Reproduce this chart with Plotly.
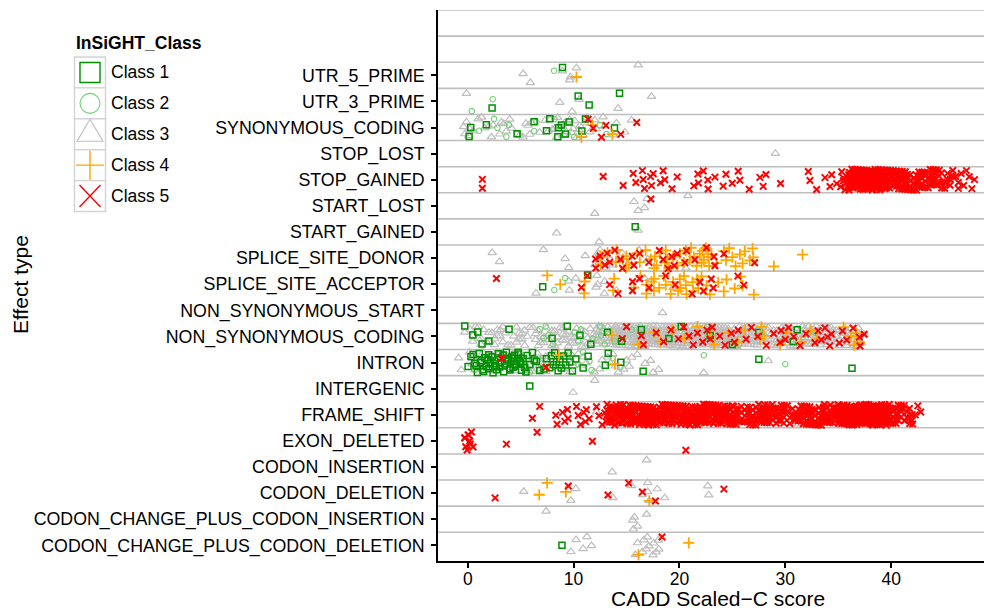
import math
import plotly.graph_objects as go

# ---------------- data ----------------
CATEGORIES = [  # bottom -> top
    "CODON_CHANGE_PLUS_CODON_DELETION", "CODON_CHANGE_PLUS_CODON_INSERTION",
    "CODON_DELETION", "CODON_INSERTION", "EXON_DELETED", "FRAME_SHIFT",
    "INTERGENIC", "INTRON", "NON_SYNONYMOUS_CODING", "NON_SYNONYMOUS_START",
    "SPLICE_SITE_ACCEPTOR", "SPLICE_SITE_DONOR", "START_GAINED", "START_LOST",
    "STOP_GAINED", "STOP_LOST", "SYNONYMOUS_CODING", "UTR_3_PRIME", "UTR_5_PRIME",
]
CLASS_NAMES = ["Class 1", "Class 2", "Class 3", "Class 4", "Class 5"]
X_TICKS = [0, 10, 20, 30, 40]

# individual CADD scores per effect type
class1_scores = {
    "UTR_5_PRIME": [8.95],
    "UTR_3_PRIME": [2.30, 10.43, 11.47, 14.34],
    "SYNONYMOUS_CODING": [0.28, 0.13, 1.76, 4.66, 6.27, 7.44, 7.75, 8.57, 8.51, 8.85,
                          9.23, 9.58, 10.78, 11.12, 13.86],
    "START_GAINED": [15.82],
    "SPLICE_SITE_ACCEPTOR": [7.08, 11.33],
    "NON_SYNONYMOUS_CODING": [-0.28, 0.48, 1.35, 0.95, 2.0, 3.9, 7.97, 9.4, 10.6, 11.63,
                              13.2, 14.53, 16.4, 19.0, 20.17, 22.9, 25.0, 27.5, 30.75, 31.12],
    "INTRON": [0.03, 0.5, 0.66, 0.91, 1.29, 1.45, 1.61, 1.76, 1.98, 2.14, 2.39, 2.55, 2.71,
               2.87, 3.02, 3.34, 3.5, 3.65, 3.81, 3.97, 4.13, 4.28, 4.44, 4.6, 4.76, 4.91,
               5.07, 5.23, 5.39, 5.61, 5.86, 6.11, 6.49, 6.8, 7.44, 7.75, 7.91, 8.07, 8.22,
               8.38, 8.54, 8.7, 8.85, 9.07, 9.26, 9.48, 9.64, 9.89, 10.21, 10.9, 11.37, 13.0,
               13.27, 14.46, 16.57, 27.5, 36.3, 0.3, 0.8, 1.1, 1.2, 1.5, 1.9, 2.0, 2.3, 2.6,
               2.9, 3.1, 3.4, 3.8, 4.0, 4.2, 4.5, 4.8, 5.0, 5.5, 6.3, 7.2],
    "INTERGENIC": [5.86],
    "CODON_CHANGE_PLUS_CODON_DELETION": [8.9],
}
class2_scores = {
    "UTR_5_PRIME": [8.16],
    "UTR_3_PRIME": [0.38, 2.36],
    "SYNONYMOUS_CODING": [1.07, 2.49, 2.8, 3.65, 3.9, 4.66, 6.49, 6.27, 8.19, 8.63, 10.05,
                          12.48, 13.11],
    "SPLICE_SITE_ACCEPTOR": [8.18, 9.2],
    "NON_SYNONYMOUS_CODING": [6.8, 7.15, 7.37, 7.6, 8.06, 10.1, 10.43, 10.7, 11.8, 12.5,
                              12.6, 12.95, 13.3, 13.9, 15.5, 18.95, 22.6, 23.6, 25.6, 32.8],
    "INTRON": [0.66, 1.9, 2.4, 3.6, 5.2, 5.86, 6.3, 6.8, 7.1, 8.2, 9.8, 10.4, 10.9, 11.5,
               11.7, 13.7, 14.4, 22.3, 30.0],
}
class3_scores = {
    "UTR_5_PRIME": [5.23, 5.92, 8.95, 9.64, 10.27, 9.7, 16.1],
    "UTR_3_PRIME": [-0.12, 8.70, 9.86, 10.52, 14.2, 17.36],
    "SYNONYMOUS_CODING": [-0.28, -0.12, 0.5, 0.98, 1.61, 2.24, 2.39, 3.02, 3.18, 3.65, 3.97,
                          4.13, 5.23, 5.7, 5.86, 6.02, 7.59, 7.75, 8.22, 8.38, 8.85, 9.01,
                          9.17, 9.32, 9.64, 9.95, 10.27, 10.59, 10.9, 11.06, 11.53, 12.0,
                          12.16, 12.79, 12.95, 13.74, 14.05, 14.84, 15.47, 0.2, 1.3, 2.0,
                          4.9, 5.5, 6.8, 7.3, 8.0, 8.5, 8.7, 9.1, 9.4, 9.8, 10.1, 10.5,
                          11.2, -0.4, 0.1, 3.4],
    "STOP_LOST": [29.06],
    "STOP_GAINED": [41.2, 41.5],
    "START_LOST": [12.0, 15.7, 16.1, 16.95, 16.7, 20.8],
    "START_GAINED": [8.4, 12.41, 16.1],
    "SPLICE_SITE_DONOR": [2.31, 3.0, 7.15, 9.2, 9.54, 11.1, 12.0, 12.3, 12.4, 12.5, 12.9,
                          13.05, 13.26, 13.74, 14.6, 15.3, 16.2, 17.0, 20.6],
    "SPLICE_SITE_ACCEPTOR": [6.45, 9.54, 9.6, 10.2, 12.12, 12.2, 12.26, 12.9, 12.93, 14.05,
                             16.7, 19.4],
    "NON_SYNONYMOUS_START": [18.4],
    "INTRON": [22.3, 28.4],
    "INTERGENIC": [9.95, 12.0],
    "FRAME_SHIFT": [12.16, 15.9, 18.3, 19.7, 20.2, 24.1, 31.2, 31.6, 33.4],
    "CODON_INSERTION": [13.65, 16.9],
    "CODON_DELETION": [5.29, 9.74, 10.2, 13.7, 15.47, 16.5, 17.0, 17.0, 17.15, 17.9, 18.6,
                       22.67, 22.77],
    "CODON_CHANGE_PLUS_CODON_INSERTION": [7.4, 15.58, 15.65, 15.74, 16.05, 16.9],
    "CODON_CHANGE_PLUS_CODON_DELETION": [9.74, 10.23, 10.9, 11.26, 11.69, 15.84, 16.03,
                                         16.5, 16.63, 16.87, 16.97, 17.13, 17.5, 17.56,
                                         17.8, 18.0, 18.05],
}
class4_scores = {
    "UTR_5_PRIME": [10.27],
    "SYNONYMOUS_CODING": [10.74, 11.78, 13.67],
    "SPLICE_SITE_DONOR": [12.54, 12.56, 13.2, 14.0, 14.05, 14.64, 14.94, 15.0, 15.2, 16.0,
                          16.26, 16.8, 17.3, 17.6, 17.68, 17.85, 18.15, 18.62, 18.71, 18.84,
                          19.0, 19.4, 19.8, 20.04, 20.42, 20.6, 20.98, 21.1, 21.36, 21.61,
                          21.93, 22.09, 22.19, 22.31, 22.5, 22.71, 22.81, 23.03, 23.5, 24.19,
                          24.4, 24.7, 25.0, 25.3, 25.71, 25.96, 26.18, 26.65, 26.91, 26.97,
                          28.92, 31.63],
    "SPLICE_SITE_ACCEPTOR": [7.51, 8.74, 11.0, 11.06, 13.74, 13.83, 15.69, 16.32, 16.88,
                             16.88, 17.36, 17.58, 17.6, 18.09, 18.52, 18.71, 19.17, 19.4,
                             19.88, 20.04, 20.1, 20.42, 20.61, 20.67, 21.24, 21.3, 21.67,
                             21.77, 22.09, 22.56, 22.87, 23.66, 24.19, 24.45, 25.22, 25.77,
                             25.96, 27.03],
    "NON_SYNONYMOUS_CODING": [13.6, 16.1, 17.6, 18.2, 19.3, 20.5, 21.7, 22.9, 23.3, 24.6,
                              25.5, 26.2, 27.6, 27.75, 28.0, 29.5, 30.1, 31.5, 32.4, 33.0,
                              35.5, 36.2, 36.5, 36.7, 37.0],
    "INTRON": [8.6, 13.9],
    "CODON_DELETION": [6.75, 7.5, 9.27, 17.15],
    "CODON_CHANGE_PLUS_CODON_DELETION": [16.13, 20.88],
}
class5_scores = {
    "SYNONYMOUS_CODING": [11.37, 11.85, 12.63, 13.05, 14.46, 15.97],
    "STOP_GAINED": [1.38, 1.38, 12.79, 14.68, 15.63, 15.88, 16.5, 16.57, 16.7, 17.27, 17.36,
                    17.52, 18.21, 18.46, 18.61, 19.3, 19.79, 21.36, 21.74, 21.8, 22.25,
                    22.68, 22.71, 23.35, 24.13, 24.39, 24.99, 25.55, 25.71, 26.59, 27.6,
                    27.91, 28.17, 29.55, 32.17, 32.33, 32.96, 33.75, 34.22, 34.38, 34.85,
                    35.33, 35.49, 35.64],
    "START_LOST": [17.3],
    "SPLICE_SITE_DONOR": [12.07, 12.1, 12.5, 12.95, 13.17, 13.42, 13.9, 14.43, 14.62, 15.54,
                          15.69, 16.25, 17.11, 18.1, 18.46, 18.93, 19.28, 19.5, 19.79, 20.51,
                          20.67, 21.46, 22.56, 23.25, 23.35, 24.2, 27.1],
    "SPLICE_SITE_ACCEPTOR": [2.71, 10.73, 11.3, 13.4, 14.2, 15.57, 15.57, 16.23, 17.13,
                             18.69, 19.6, 21.2, 21.93, 22.27, 23.0, 23.2, 25.52, 26.08],
    "NON_SYNONYMOUS_CODING": [14.6, 15.0, 16.4, 16.6, 17.8, 18.5, 19.2, 19.9, 20.4, 20.9,
                              21.3, 21.7, 22.2, 22.6, 22.9, 23.1, 23.8, 24.3, 24.9, 25.2,
                              25.55, 26.3, 26.8, 27.4, 28.2, 28.9, 29.5, 29.6, 30.0, 30.3,
                              30.8, 31.4, 31.95, 32.8, 33.1, 33.4, 33.74, 34.0, 34.2, 34.35,
                              35.1, 35.4, 35.8, 36.4, 37.0, 37.06, 37.45],
    "INTRON": [3.2, 7.4],
    "FRAME_SHIFT": [6.11, 6.8, 8.32, 8.44, 8.95, 9.17, 9.42, 9.48, 10.27, 10.43, 10.65,
                    10.97, 11.12, 11.2, 11.47, 12.16, 12.4, 12.7, 12.95],
    "EXON_DELETED": [-0.28, -0.19, 0.03, 0.25, 0.35, 0.19, -0.06, -0.28, 0.5, 0.1, 3.65,
                     6.55, 11.78, 20.6],
    "CODON_DELETION": [2.58, 9.5, 13.25, 15.2, 16.5, 17.73, 24.2],
    "CODON_CHANGE_PLUS_CODON_DELETION": [18.35],
}

# dense clusters: number of points read per 1-unit score bin {bin start: count}
stop_gained_class5_bins = {35: 4, 36: 30, 37: 45, 38: 40, 39: 25, 40: 20, 41: 18, 42: 15,
                           43: 14, 44: 10, 45: 8, 46: 5, 47: 4}
frame_shift_class5_bins = {13: 18, 14: 20, 15: 22, 16: 20, 17: 22, 18: 20, 19: 22, 20: 22,
                           21: 20, 22: 22, 23: 22, 24: 18, 25: 14, 26: 14, 27: 14, 28: 16,
                           29: 14, 30: 8, 31: 14, 32: 18, 33: 18, 34: 14, 35: 30, 36: 40,
                           37: 42, 38: 40, 39: 30, 40: 14, 41: 10, 42: 4}
nsc_class3_bins = {-1: 1, 0: 5, 1: 6, 2: 6, 3: 6, 4: 6, 5: 6, 6: 7, 7: 7, 8: 7, 9: 7, 10: 7,
                   11: 8, 12: 14, 13: 18, 14: 20, 15: 20, 16: 22, 17: 22, 18: 22, 19: 20,
                   20: 20, 21: 20, 22: 22, 23: 22, 24: 20, 25: 18, 26: 16, 27: 14, 28: 12,
                   29: 12, 30: 14, 31: 16, 32: 16, 33: 14, 34: 12, 35: 12, 36: 10, 37: 2}
intron_class3_bins = {-1: 2, 0: 7, 1: 7, 2: 6, 3: 6, 4: 6, 5: 6, 6: 5, 7: 5, 8: 5, 9: 4,
                      10: 3, 11: 2, 12: 2, 13: 4, 14: 3, 15: 2, 16: 2, 17: 2, 18: 1}

scores_by_class = [class1_scores, class2_scores, class3_scores, class4_scores, class5_scores]
bins_by_class = [
    {},
    {},
    {"NON_SYNONYMOUS_CODING": nsc_class3_bins, "INTRON": intron_class3_bins},
    {},
    {"STOP_GAINED": stop_gained_class5_bins, "FRAME_SHIFT": frame_shift_class5_bins},
]

# ---------------- styles ----------------
COLORS = ["#008F00", "#72CF72", "#BEBEBE", "#FFA500", "#FF0000"]
SYMBOLS = ["square-open", "circle-open", "triangle-up-open", "cross-thin-open", "x-thin-open"]
SIZES = [6, 5.5, 7.5, 8, 6.5]
LWIDTHS = [1.5, 1.1, 1.2, 1.8, 2.0]
FONT = "Liberation Sans, Arial, Helvetica, sans-serif"

# deterministic jitter layout (low-discrepancy sequence)
A1 = 0.7548776662466927
A2 = 0.5698402909980532
JIT = 0.4


def frac(v):
    return v - math.floor(v)


def layout_points(values, bins, row, seed):
    xs, ys = [], []
    k = seed
    for v in values:
        xs.append(v)
        ys.append(row + (frac(0.5 + k * A2) - 0.5) * 2 * JIT)
        k += 1
    for b, n in bins.items():
        for _ in range(n):
            xs.append(b + frac(0.5 + k * A1))
            ys.append(row + (frac(0.5 + k * A2) - 0.5) * 2 * JIT)
            k += 1
    return xs, ys


fig = go.Figure()
for ci in [2, 1, 0, 3, 4]:
    xs_all, ys_all = [], []
    for ri, cat in enumerate(CATEGORIES):
        vals = scores_by_class[ci].get(cat, [])
        bins = bins_by_class[ci].get(cat, {})
        if not vals and not bins:
            continue
        xs, ys = layout_points(vals, bins, ri + 1, seed=ri * 17 + ci * 5)
        xs_all += xs
        ys_all += ys
    fig.add_trace(go.Scatter(
        x=xs_all, y=ys_all, mode="markers", name=CLASS_NAMES[ci], showlegend=False,
        marker=dict(symbol=SYMBOLS[ci], size=SIZES[ci], color=COLORS[ci],
                    line=dict(color=COLORS[ci], width=LWIDTHS[ci])),
    ))

# ---------------- layout geometry ----------------
W, H = 984, 611
L, R, T, B = 438, 984, 10, 561
PW, PH = R - L, B - T


def px2x(px):
    return (px - L) / PW


def py2y(py):
    return (B - py) / PH


shapes = []
# horizontal separators between effect types
for k in range(1, len(CATEGORIES) + 3):
    yv = k + 0.5
    shapes.append(dict(type="line", xref="paper", yref="y", x0=0, x1=1, y0=yv, y1=yv,
                       line=dict(color="#BEBEBE", width=1.6), layer="below"))

annotations = []
# manual legend (ggplot style keys)
annotations.append(dict(text="<b>InSiGHT_Class</b>", x=px2x(74), y=py2y(43), xref="paper",
                        yref="paper", xanchor="left", yanchor="middle", showarrow=False,
                        font=dict(family=FONT, size=17.5, color="#000000")))
key_top, key_h, key_l, key_r = 57.0, 30.9, 74.5, 105.5
for i, name in enumerate(CLASS_NAMES):
    t0 = key_top + i * key_h
    cy = t0 + key_h / 2
    cx = (key_l + key_r) / 2
    shapes.append(dict(type="rect", xref="paper", yref="paper", x0=px2x(key_l), x1=px2x(key_r),
                       y0=py2y(t0 + key_h), y1=py2y(t0), fillcolor="#FFFFFF",
                       line=dict(color="#D3D3D3", width=1.4)))
    col = COLORS[i]
    if i == 0:
        shapes.append(dict(type="rect", xref="paper", yref="paper", x0=px2x(cx - 10),
                           x1=px2x(cx + 10), y0=py2y(cy + 10), y1=py2y(cy - 10),
                           line=dict(color=col, width=1.4)))
    elif i == 1:
        shapes.append(dict(type="circle", xref="paper", yref="paper", x0=px2x(cx - 10),
                           x1=px2x(cx + 10), y0=py2y(cy + 10), y1=py2y(cy - 10),
                           line=dict(color=col, width=1.1)))
    elif i == 2:
        p = "M {},{} L {},{} L {},{} Z".format(px2x(cx), py2y(cy - 15), px2x(cx - 13),
                                              py2y(cy + 7), px2x(cx + 13), py2y(cy + 7))
        shapes.append(dict(type="path", xref="paper", yref="paper", path=p,
                           line=dict(color=col, width=1.1)))
    elif i == 3:
        p = "M {},{} L {},{} M {},{} L {},{}".format(
            px2x(cx - 14), py2y(cy), px2x(cx + 14), py2y(cy),
            px2x(cx), py2y(cy - 14.5), px2x(cx), py2y(cy + 14.5))
        shapes.append(dict(type="path", xref="paper", yref="paper", path=p,
                           line=dict(color=col, width=1.4)))
    else:
        p = "M {},{} L {},{} M {},{} L {},{}".format(
            px2x(cx - 10.5), py2y(cy - 11), px2x(cx + 10.5), py2y(cy + 11),
            px2x(cx - 10.5), py2y(cy + 11), px2x(cx + 10.5), py2y(cy - 11))
        shapes.append(dict(type="path", xref="paper", yref="paper", path=p,
                           line=dict(color=col, width=1.4)))
    annotations.append(dict(text=name, x=px2x(109), y=py2y(cy), xref="paper", yref="paper",
                            xanchor="left", yanchor="middle", showarrow=False,
                            font=dict(family=FONT, size=17.5, color="#000000")))

# axis titles
annotations.append(dict(text="CADD Scaled\u2212C score", x=px2x(718), y=py2y(611),
                        xref="paper", yref="paper", xanchor="center", yanchor="bottom",
                        showarrow=False, borderpad=0,
                        font=dict(family=FONT, size=21, color="#000000")))
annotations.append(dict(text="Effect type", x=px2x(20), y=py2y(285), xref="paper",
                        yref="paper", xanchor="center", yanchor="middle", textangle=-90,
                        showarrow=False, font=dict(family=FONT, size=21, color="#000000")))

fig.update_layout(
    width=W, height=H,
    margin=dict(l=L, r=W - R, t=T, b=H - B, pad=0),
    paper_bgcolor="white", plot_bgcolor="white",
    showlegend=False,
    shapes=shapes, annotations=annotations,
    font=dict(family=FONT, size=17.5, color="#000000"),
    xaxis=dict(range=[-2.81, 48.77], tickvals=X_TICKS, ticktext=[str(v) for v in X_TICKS],
               showgrid=False, zeroline=False, showline=True, linecolor="black",
               linewidth=1.6, ticks="outside", ticklen=5, tickwidth=1.5,
               tickcolor="black", ticklabelstandoff=-4,
               tickfont=dict(family=FONT, size=17.5, color="#000000")),
    yaxis=dict(range=[0.4, 21.5], tickvals=list(range(1, len(CATEGORIES) + 1)),
               ticktext=CATEGORIES, showgrid=False, zeroline=False, showline=True,
               linecolor="black", linewidth=1.6, ticks="outside", ticklen=5, tickwidth=1.5,
               tickcolor="black", ticklabelstandoff=3,
               tickfont=dict(family=FONT, size=17.8, color="#000000")),
)

fig.write_html("out.html")
